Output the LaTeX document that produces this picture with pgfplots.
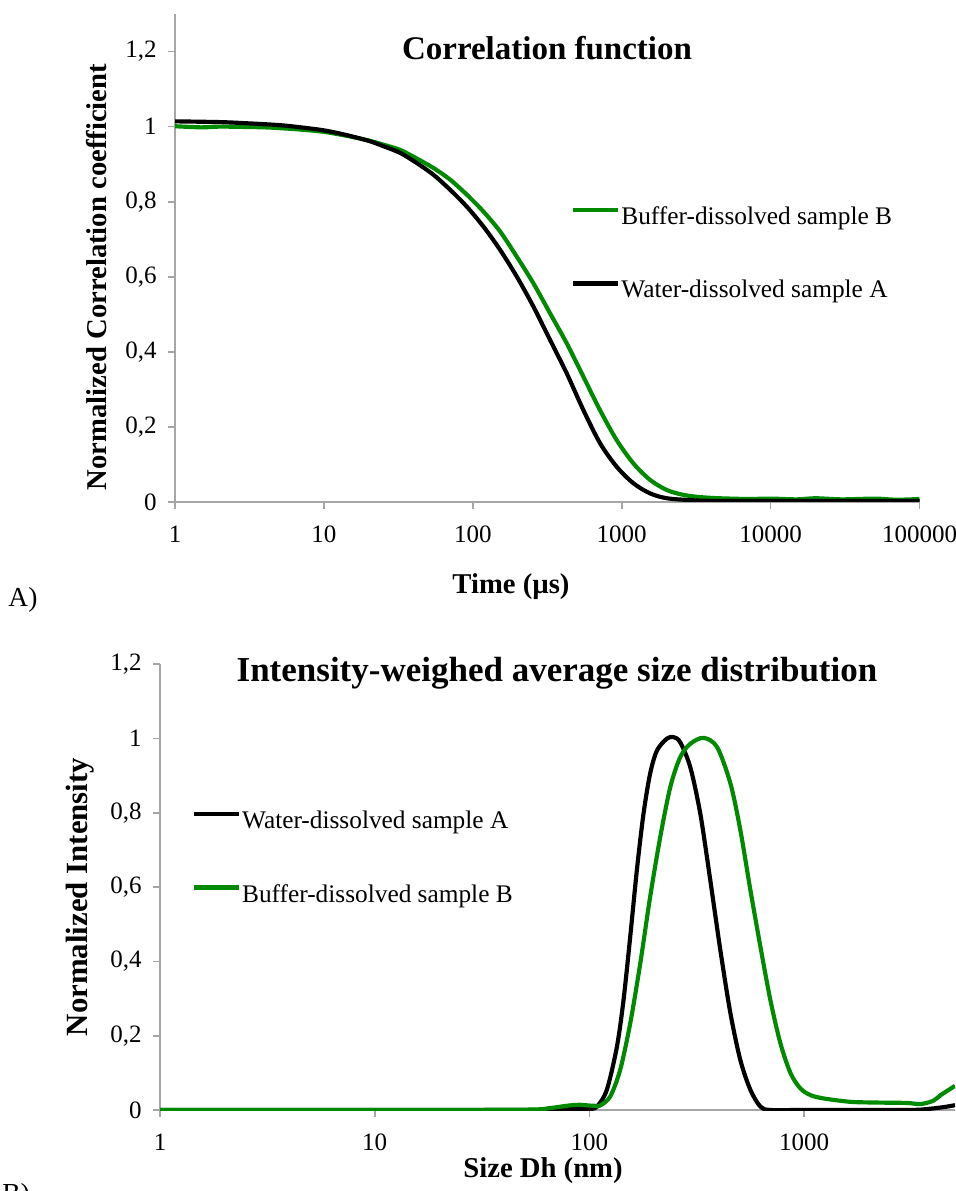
\documentclass[border=0pt]{standalone}
\usepackage{pgfplots}
\pgfplotsset{compat=1.18}
\usepackage{fontspec}
\setmainfont{Liberation Serif}
\definecolor{cgreen}{RGB}{0,138,0}
\definecolor{cgray}{RGB}{166,166,166}
\begin{document}
\begin{tikzpicture}
\useasboundingbox (0pt,0pt) rectangle (573pt,714.6pt);
% ---------- Panel A ----------
\begin{axis}[
  scale only axis,
  xmode=log,
  axis x line=bottom, axis y line=left,
  axis line style={-, cgray, line width=1pt},
  tick style={cgray, line width=1pt},
  tick align=outside,
  major tick length=4pt,
  xminorticks=false, yminorticks=false,
  tick label style={font=\fontsize{15}{17}\selectfont, text=black},
  xticklabel style={inner sep=0pt, yshift=-10pt},
  yticklabel style={xshift=-3.5pt},
  ytick={0,0.2,0.4,0.6,0.8,1,1.2},
  yticklabels={0,{0,2},{0,4},{0,6},{0,8},1,{1,2}},
  legend cell align=left,
  legend style={draw=none, fill=none, inner sep=0pt, row sep=31pt, column sep=0pt,
    font=\fontsize{15.2}{17}\selectfont, nodes={inner sep=0.5pt},
    at={(axis description cs:0.532,0.509)}, anchor=west},
  legend image code/.code={\draw[#1] (0pt,0.42em) -- (27pt,0.42em);},
  at={(105pt,413.4pt)}, anchor=south west,
  width=446.7pt, height=292.8pt,
  xmin=1, xmax=100000, ymin=0, ymax=1.3,
  xtick={1,10,100,1000,10000,100000},
  xticklabels={1,10,100,1000,10000,100000},
]
\addplot[cgreen, line width=2.5pt, smooth] coordinates {
(1,1.001) (1.5,0.998) (2,1.0) (3,0.999) (4,0.998) (5,0.996) (7,0.992) (10,0.986)
(14,0.976) (20,0.963) (25,0.952) (32.5,0.938) (42,0.915) (54.3,0.890) (70.3,0.859)
(91,0.819) (117.7,0.774) (152.3,0.721) (197.1,0.654) (254.9,0.583) (329.9,0.503)
(427.1,0.423) (552.6,0.334) (714.5,0.245) (925,0.165) (1197,0.103) (1549,0.059)
(2005,0.032) (2594,0.019) (3357,0.013) (4500,0.010) (7000,0.008) (10000,0.009)
(15000,0.007) (20000,0.010) (30000,0.007) (50000,0.009) (70000,0.006) (100000,0.008)
};
\addlegendentry{Buffer-dissolved sample B}
\addplot[black, line width=2.5pt, smooth] coordinates {
(1,1.014) (2,1.012) (3,1.009) (5,1.004) (7,0.998) (10,0.99) (14,0.978) (20,0.962)
(25,0.948) (32.5,0.930) (42,0.903) (54.3,0.872) (70.3,0.832) (91,0.787)
(117.7,0.734) (152.3,0.672) (197.1,0.601) (254.9,0.521) (329.9,0.432)
(427.1,0.343) (552.6,0.245) (714.5,0.157) (925,0.094) (1197,0.050) (1549,0.023)
(2005,0.010) (2877,0.005) (4000,0.003) (10000,0.003) (30000,0.003) (100000,0.003)
};
\addlegendentry{Water-dissolved sample A}
\end{axis}
% ---------- Panel B ----------
\begin{axis}[
  scale only axis,
  xmode=log,
  axis x line=bottom, axis y line=left,
  axis line style={-, cgray, line width=1pt},
  tick style={cgray, line width=1pt},
  tick align=outside,
  major tick length=4pt,
  xminorticks=false, yminorticks=false,
  tick label style={font=\fontsize{15}{17}\selectfont, text=black},
  xticklabel style={inner sep=0pt, yshift=-10pt},
  yticklabel style={xshift=-3.5pt},
  ytick={0,0.2,0.4,0.6,0.8,1,1.2},
  yticklabels={0,{0,2},{0,4},{0,6},{0,8},1,{1,2}},
  legend cell align=left,
  legend style={draw=none, fill=none, inner sep=0pt, row sep=31pt, column sep=0pt,
    font=\fontsize{15.2}{17}\selectfont, nodes={inner sep=0.5pt},
    at={(axis description cs:0.040,0.566)}, anchor=west},
  legend image code/.code={\draw[#1] (0pt,0.42em) -- (27pt,0.42em);},
  at={(96pt,48.6pt)}, anchor=south west,
  width=477pt, height=267.4pt,
  xmin=1, xmax=5045, ymin=0, ymax=1.2,
  xtick={1,10,100,1000},
  xticklabels={1,10,100,1000},
]
\addplot[black, line width=2.5pt, smooth] coordinates {
(1,0) (10,0) (50,0) (70,0.001) (90,0.003) (100,0.003) (108.3,0.009) (120.5,0.054)
(134.3,0.17) (144.2,0.296) (154.9,0.466) (166.4,0.646) (178.7,0.798) (191.9,0.906)
(206.4,0.968) (229.6,1.0) (246.6,1.004) (264.9,0.99) (295.1,0.923) (328.5,0.798)
(365.6,0.619) (407.4,0.43) (453.9,0.26) (505,0.134) (562.3,0.054) (626.3,0.009)
(696.6,0) (1000,0) (3000,0) (3800,0.003) (4500,0.008) (5045,0.013)
};
\addlegendentry{Water-dissolved sample A}
\addplot[cgreen, line width=2.5pt, smooth] coordinates {
(1,0) (10,0) (50,0.001) (65,0.005) (80,0.012) (90,0.014) (100,0.012) (108,0.011)
(112.2,0.012) (124.9,0.036) (139.1,0.108) (154.9,0.233) (172.6,0.395) (191.9,0.574)
(213.8,0.735) (238.2,0.870) (264.9,0.950) (295.1,0.986) (340.4,1.002) (393.5,0.977)
(453.9,0.879) (505,0.753) (562.3,0.592) (626.3,0.439) (696.6,0.296) (776.2,0.179)
(864.9,0.099) (961.6,0.058) (1071.5,0.040) (1236,0.031) (1644,0.022) (2200,0.020)
(3000,0.019) (3490,0.016) (4000,0.025) (4325,0.040) (5045,0.065)
};
\addlegendentry{Buffer-dissolved sample B}
\end{axis}
% ---------- texts ----------
\node[font=\bfseries\fontsize{19.8}{23}\selectfont] at (328.2pt,685.8pt) {Correlation function};
\node[font=\bfseries\fontsize{17.2}{20}\selectfont, rotate=90] at (58.2pt,548.4pt) {Normalized Correlation coefficient};
\node[font=\bfseries\fontsize{17.2}{20}\selectfont, inner sep=0pt] at (306.6pt,362.4pt) {Time (µs)};
\node[font=\fontsize{16.5}{19}\selectfont] at (13.8pt,354.6pt) {A)};
\node[font=\bfseries\fontsize{21}{24}\selectfont] at (334.2pt,310.8pt) {Intensity-weighed average size distribution};
\node[font=\bfseries\fontsize{18.5}{21}\selectfont, rotate=90] at (48pt,176.4pt) {Normalized Intensity};
\node[font=\bfseries\fontsize{17.2}{20}\selectfont, inner sep=0pt] at (325.8pt,12.4pt) {Size Dh (nm)};
\node[font=\fontsize{16.5}{19}\selectfont, anchor=north west, inner sep=0pt] at (1.2pt,4.8pt) {B)};
\end{tikzpicture}
\end{document}
